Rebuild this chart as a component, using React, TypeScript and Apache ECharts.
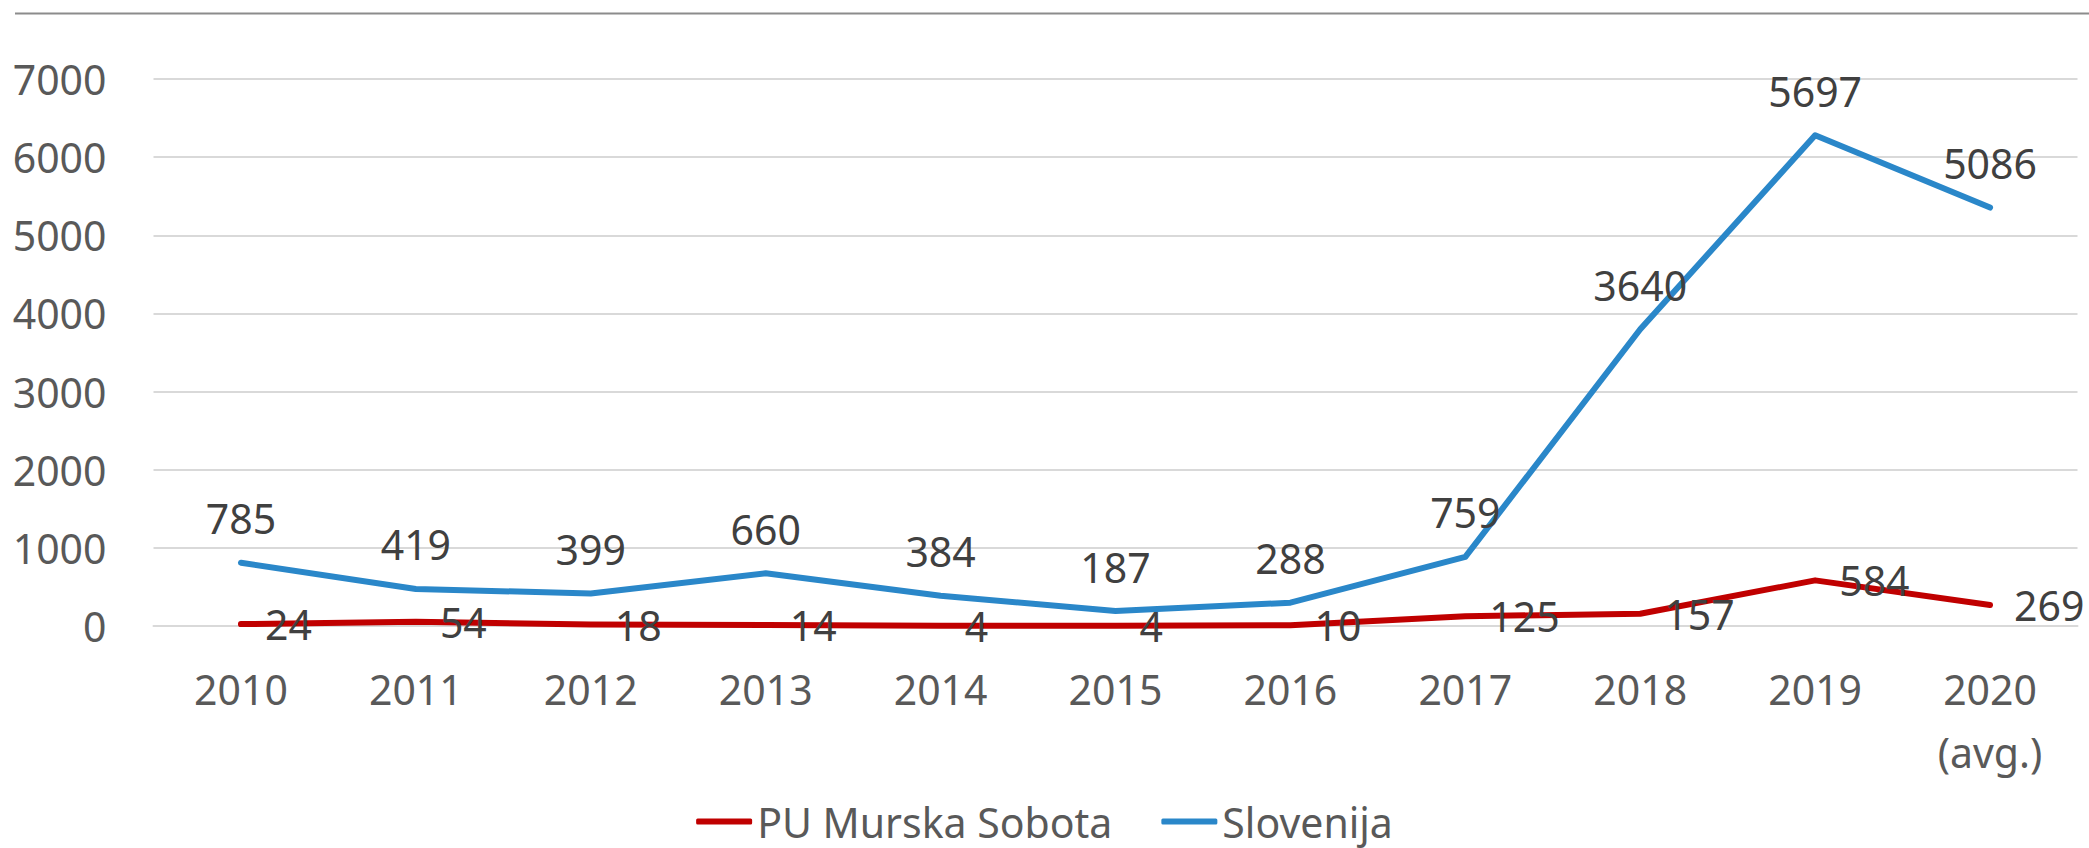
import React, { useEffect, useRef } from "react";
import * as echarts from "echarts";

const categories = ["2010", "2011", "2012", "2013", "2014", "2015", "2016", "2017", "2018", "2019", "2020\n(avg.)"];
const puMurskaSobota = [24, 54, 18, 14, 4, 4, 10, 125, 157, 584, 269];
const slovenija = [785, 419, 399, 660, 384, 187, 288, 759, 3640, 5697, 5086];
const yTicks = { min: 0, max: 7000, interval: 1000 };

const FONT = "'Noto Sans', 'Open Sans', sans-serif";

export default function App() {
  const ref = useRef<HTMLDivElement>(null);
  useEffect(() => {
    if (!ref.current) return;
    const chart = echarts.init(ref.current, null, { renderer: "svg" });
    chart.setOption({
      animation: false,
      backgroundColor: "#ffffff",
      textStyle: { fontFamily: FONT },
      grid: { left: 153.5, right: 11.5, top: 79, bottom: 222, containLabel: false },
      graphic: [
        {
          type: "line",
          shape: { x1: 15, y1: 13.5, x2: 2089, y2: 13.5 },
          style: { stroke: "#8c8c8c", lineWidth: 2 },
          silent: true,
        },
      ],
      legend: {
        top: 801,
        left: "center",
        icon: "roundRect",
        itemWidth: 56,
        itemHeight: 6,
        itemGap: 49,
        padding: 0,
        textStyle: { fontFamily: FONT, fontSize: 41, color: "#595959", lineHeight: 41 },
        data: ["PU Murska Sobota", "Slovenija"],
      },
      xAxis: {
        type: "category",
        data: categories,
        boundaryGap: true,
        axisLine: { show: true, lineStyle: { color: "#d9d9d9", width: 2 } },
        axisTick: { show: false },
        axisLabel: {
          fontFamily: FONT,
          fontSize: 41,
          color: "#595959",
          lineHeight: 63,
          margin: 31,
          interval: 0,
        },
      },
      yAxis: {
        type: "value",
        min: yTicks.min,
        max: yTicks.max,
        interval: yTicks.interval,
        axisLine: { show: false },
        axisTick: { show: false },
        splitLine: { lineStyle: { color: "#d9d9d9", width: 2 } },
        axisLabel: {
          fontFamily: FONT,
          fontSize: 41,
          color: "#595959",
          margin: 47,
          formatter: (v: number) => String(v),
        },
      },
      series: [
        {
          name: "PU Murska Sobota",
          type: "line",
          stack: "total",
          data: puMurskaSobota,
          symbol: "circle",
          symbolSize: 0.1,
          showSymbol: true,
          lineStyle: { color: "#c00000", width: 6, cap: "round", join: "round" },
          itemStyle: { color: "#c00000" },
          label: {
            show: true,
            position: "right",
            distance: 24,
            fontFamily: FONT,
            fontSize: 41,
            lineHeight: 41,
            color: "#404040",
          },
          z: 3,
        },
        {
          name: "Slovenija",
          type: "line",
          stack: "total",
          data: slovenija,
          symbol: "circle",
          symbolSize: 0.1,
          showSymbol: true,
          lineStyle: { color: "#2a87c9", width: 6, cap: "round", join: "round" },
          itemStyle: { color: "#2a87c9" },
          label: {
            show: true,
            position: "top",
            distance: 24,
            fontFamily: FONT,
            fontSize: 41,
            lineHeight: 41,
            color: "#404040",
          },
          z: 2,
        },
      ],
    });
    return () => chart.dispose();
  }, []);
  return (
    <div
      ref={ref}
      style={{ position: "absolute", left: 0, top: 0, width: 2089, height: 848 }}
    />
  );
}
